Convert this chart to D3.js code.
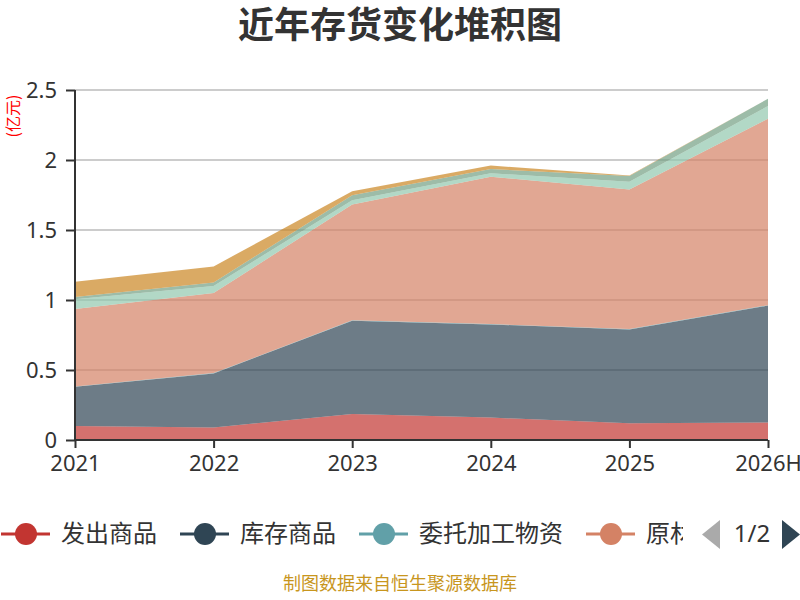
<!DOCTYPE html>
<html>
<head>
<meta charset="utf-8">
<script src="https://cdn.jsdelivr.net/npm/d3@7"></script>
<style>
  body { margin: 0; background: #fff; }
  svg { display: block; font-family: "Noto Sans CJK SC", "Noto Sans", sans-serif; }
</style>
</head>
<body>
<svg id="chart" width="800" height="600"></svg>
<script>
// values in 亿元
var years = ['2021', '2022', '2023', '2024', '2025', '2026H'];
var seriesNames = ['发出商品', '库存商品', '委托加工物资', '原材料', '在产品', '周转材料', '自制半成品'];
var faChu = [0.10, 0.09, 0.185, 0.16, 0.12, 0.125];
var kuCun = [0.28, 0.385, 0.667, 0.665, 0.67, 0.835];
var weiTuo = [0.003, 0.003, 0.003, 0.003, 0.003, 0.003];
var yuanCai = [0.553, 0.572, 0.828, 1.052, 0.997, 1.332];
var zaiChan = [0.07, 0.05, 0.03, 0.025, 0.055, 0.09];
var zhouZhuan = [0.015, 0.025, 0.035, 0.03, 0.04, 0.053];
var banCheng = [0.11, 0.115, 0.028, 0.025, 0.005, 0.0];
var yTicks = [0, 0.5, 1, 1.5, 2, 2.5];
var colors = ['#c23531', '#2f4554', '#61a0a8', '#d48265', '#91c7ae', '#749f83', '#ca8622'];

var allSeries = [faChu, kuCun, weiTuo, yuanCai, zaiChan, zhouZhuan, banCheng];
var rows = years.map(function(y, i) {
  var r = {year: y};
  seriesNames.forEach(function(n, k) { r[n] = allSeries[k][i]; });
  return r;
});

var svg = d3.select('#chart');
var x = d3.scalePoint().domain(years).range([75, 768]);
var y = d3.scaleLinear().domain([0, 2.5]).range([440, 90]);

// title
svg.append('text')
  .attr('x', 400).attr('y', 38)
  .attr('text-anchor', 'middle')
  .attr('font-size', 36).attr('font-weight', 'bold')
  .attr('fill', '#333')
  .text('近年存货变化堆积图');

// grid
svg.append('g').selectAll('line')
  .data(yTicks.filter(function(t) { return t > 0; }))
  .enter().append('line')
  .attr('x1', 75).attr('x2', 768)
  .attr('y1', function(d) { return y(d); })
  .attr('y2', function(d) { return y(d); })
  .attr('stroke', '#ccc').attr('stroke-width', 2);

// stacked areas
var stack = d3.stack().keys(seriesNames);
var area = d3.area()
  .x(function(d) { return x(d.data.year); })
  .y0(function(d) { return y(d[0]); })
  .y1(function(d) { return y(d[1]); });

svg.append('g').selectAll('path')
  .data(stack(rows))
  .enter().append('path')
  .attr('d', area)
  .attr('fill', function(d, i) { return colors[i]; })
  .attr('fill-opacity', 0.7);

// axes
var yAxis = svg.append('g')
  .attr('transform', 'translate(75,0)')
  .call(d3.axisLeft(y).tickValues(yTicks).tickSize(9).tickPadding(9).tickFormat(d3.format('')));
var xAxis = svg.append('g')
  .attr('transform', 'translate(0,440)')
  .call(d3.axisBottom(x).tickSize(8).tickPadding(7));

[yAxis, xAxis].forEach(function(ax) {
  ax.select('.domain').attr('stroke', '#333').attr('stroke-width', 2);
  ax.selectAll('.tick line').attr('stroke', '#333').attr('stroke-width', 2);
  ax.selectAll('.tick text')
    .attr('fill', '#333')
    .attr('font-size', 22)
    .attr('font-family', '"Noto Sans", sans-serif');
});
xAxis.select('.domain').attr('d', 'M75,0H768');
yAxis.select('.domain').attr('d', 'M0,90V440');

// unit label
svg.append('text')
  .attr('transform', 'translate(19,116) rotate(-90)')
  .attr('text-anchor', 'middle')
  .attr('font-size', 16)
  .attr('fill', 'red')
  .text('(亿元)');

// legend, page 1 of 2
svg.append('clipPath').attr('id', 'legendClip')
  .append('rect').attr('x', 0).attr('y', 500).attr('width', 683).attr('height', 70);

var legend = svg.append('g').attr('clip-path', 'url(#legendClip)');
var lx = 0;
seriesNames.slice(0, 5).forEach(function(name, i) {
  var g = legend.append('g').attr('transform', 'translate(' + lx + ',534)');
  g.append('line')
    .attr('x1', 1).attr('x2', 50)
    .attr('stroke', colors[i]).attr('stroke-width', 3);
  g.append('circle')
    .attr('cx', 26).attr('r', 11)
    .attr('fill', colors[i]);
  g.append('text')
    .attr('x', 61).attr('dy', '0.35em')
    .attr('font-size', 24)
    .attr('fill', '#333')
    .text(name);
  lx += 61 + name.length * 24 + 22;
});

svg.append('path')
  .attr('d', 'M720,520L702,534.5L720,549Z')
  .attr('fill', '#aaa');
svg.append('text')
  .attr('x', 752).attr('y', 534).attr('dy', '0.35em')
  .attr('text-anchor', 'middle')
  .attr('font-size', 24)
  .attr('font-family', '"Noto Sans", sans-serif')
  .attr('fill', '#333')
  .text('1/2');
svg.append('path')
  .attr('d', 'M782,520L800,534.5L782,549Z')
  .attr('fill', '#2f4554');

// source
svg.append('text')
  .attr('x', 400).attr('y', 590)
  .attr('text-anchor', 'middle')
  .attr('font-size', 18)
  .attr('fill', '#c8961e')
  .text('制图数据来自恒生聚源数据库');
</script>
</body>
</html>
